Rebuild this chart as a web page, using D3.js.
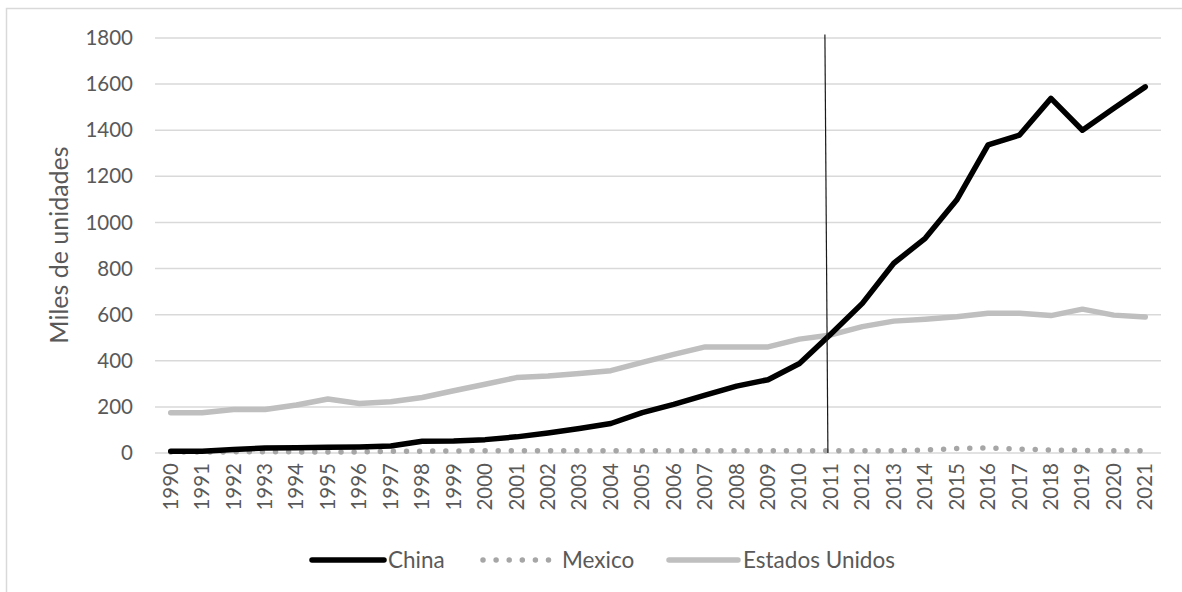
<!DOCTYPE html>
<html>
<head>
<meta charset="utf-8">
<script src="https://cdn.jsdelivr.net/npm/d3@7"></script>
<style>
  html, body { margin: 0; padding: 0; background: #fff; }
  svg { display: block; }
  text { font-family: Lato, "Open Sans", sans-serif; fill: #595959; }
</style>
</head>
<body>
<svg id="chart" width="1182" height="592"></svg>
<script>
const years = ["1990","1991","1992","1993","1994","1995","1996","1997","1998","1999","2000",
  "2001","2002","2003","2004","2005","2006","2007","2008","2009","2010",
  "2011","2012","2013","2014","2015","2016","2017","2018","2019","2020","2021"];
const china = [8, 8, 15, 22, 23, 25, 26, 30, 51, 52, 58, 70, 87, 106, 128, 175, 211, 251, 290, 318, 388,
  516, 649, 823, 931, 1097, 1336, 1379, 1538, 1400, 1495, 1588];
const mexico = [4, 4, 5, 5, 5, 4, 5, 7, 8, 9, 10, 10, 10, 10, 10, 10, 10, 10, 10, 10, 10,
  10, 10, 10, 13, 19, 22, 17, 13, 11, 10, 10];
const estadosUnidos = [175, 175, 189, 189, 208, 234, 215, 222, 241, 270, 298, 327, 334, 345, 357, 393, 428, 460, 460, 460, 494,
  512, 548, 572, 580, 591, 606, 606, 596, 624, 598, 590];
const yTicks = [0, 200, 400, 600, 800, 1000, 1200, 1400, 1600, 1800];
const seriesNames = ["China", "Mexico", "Estados Unidos"];
const markerYear = "2011";
const markerTop = 1815;
const yTitle = "Miles de unidades";

const svg = d3.select("#chart");

// outer chart border (only left & top visible)
svg.append("rect").attr("x", 6.5).attr("y", 8.5).attr("width", 1300).attr("height", 700)
  .attr("fill", "none").attr("stroke", "#d9d9d9").attr("stroke-width", 1.5);

const x = d3.scaleBand().domain(years).range([155, 1161]).padding(0);
const y = d3.scaleLinear().domain([0, 1800]).range([453, 38]);
const cx = d => x(d) + x.bandwidth() / 2;

// gridlines
svg.append("g").selectAll("line").data(yTicks).join("line")
  .attr("x1", 155).attr("x2", 1161)
  .attr("y1", d => y(d)).attr("y2", d => y(d))
  .attr("stroke", "#d9d9d9").attr("stroke-width", 1.5);

// y axis labels
const yAxis = d3.axisLeft(y).tickValues(yTicks).tickSize(0).tickPadding(0).tickFormat(d3.format("d"));
const gy = svg.append("g").attr("transform", "translate(133,0)").call(yAxis);
gy.select(".domain").remove();
gy.selectAll("text").style("font-size", "20.5px").attr("fill", "#595959")
  .style("font-family", "Lato, sans-serif");

// x axis labels
const xAxis = d3.axisBottom(x).tickSize(0).tickPadding(0);
const gx = svg.append("g").attr("transform", "translate(0,463)").call(xAxis);
gx.select(".domain").remove();
gx.selectAll("text").style("font-size", "20.5px").attr("fill", "#595959")
  .style("font-family", "Lato, sans-serif")
  .attr("text-anchor", "end").attr("dy", null).attr("y", 0)
  .attr("transform", "rotate(-90) translate(0,7)");

// y title
svg.append("text").attr("transform", "translate(68,245) rotate(-90)")
  .attr("text-anchor", "middle").style("font-size", "25px").text(yTitle);

const line = d3.line().x((d, i) => cx(years[i])).y(d => y(d));

// Estados Unidos
svg.append("path").datum(estadosUnidos).attr("d", line)
  .attr("fill", "none").attr("stroke", "#bfbfbf").attr("stroke-width", 5.5)
  .attr("stroke-linejoin", "round").attr("stroke-linecap", "round");
// Mexico dotted
svg.append("path").datum(mexico).attr("d", line)
  .attr("fill", "none").attr("stroke", "#a6a6a6").attr("stroke-width", 5.5)
  .attr("stroke-linecap", "round").attr("stroke-dasharray", "0 13.1");
// China
svg.append("path").datum(china).attr("d", line)
  .attr("fill", "none").attr("stroke", "#000").attr("stroke-width", 5.5)
  .attr("stroke-linejoin", "round").attr("stroke-linecap", "round");

// vertical marker line
svg.append("line")
  .attr("x1", cx(markerYear) - 6).attr("y1", y(markerTop))
  .attr("x2", cx(markerYear) - 3).attr("y2", y(0))
  .attr("stroke", "#1a1a1a").attr("stroke-width", 1.2);

// legend
const legend = svg.append("g").attr("transform", "translate(0,560)");
const legItems = [
  {name: seriesNames[0], x1: 312, x2: 384, stroke: "#000", dash: null, w: 5.5, tx: 388},
  {name: seriesNames[1], x1: 483, x2: 549, stroke: "#a6a6a6", dash: "0 13.1", w: 5.5, tx: 562},
  {name: seriesNames[2], x1: 669, x2: 738, stroke: "#bfbfbf", dash: null, w: 5.5, tx: 743}
];
legItems.forEach(it => {
  legend.append("line").attr("x1", it.x1).attr("x2", it.x2).attr("y1", 0).attr("y2", 0)
    .attr("stroke", it.stroke).attr("stroke-width", it.w).attr("stroke-linecap", "round")
    .attr("stroke-dasharray", it.dash);
  legend.append("text").attr("x", it.tx).attr("y", 0).attr("dy", "0.35em")
    .style("font-size", "22.5px").text(it.name);
});
</script>
</body>
</html>
